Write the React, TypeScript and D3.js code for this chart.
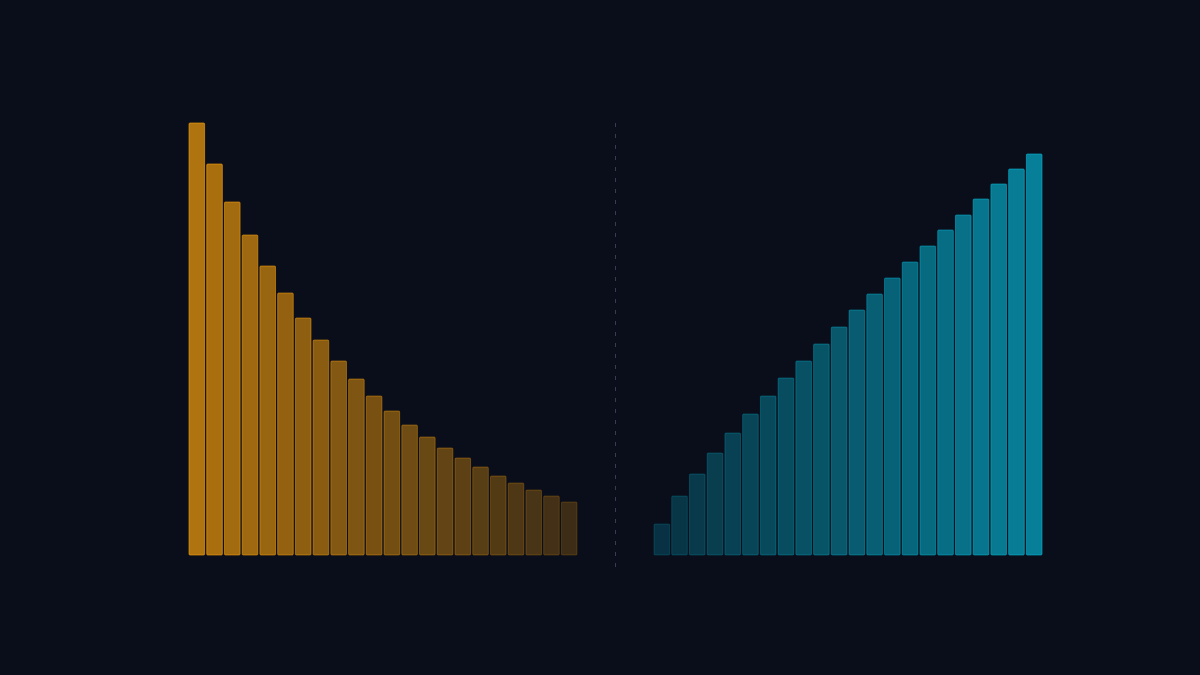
import * as d3 from 'd3'
import { useEffect } from 'react'

const W = 1200
const H = 675

// left group: shrinking values (amber)
const leftValues = [432, 391, 353, 320, 289, 262, 237, 215, 194, 176, 159, 144, 130, 118, 107, 97, 88, 79, 72, 65, 59, 53]
// right group: growing values (cyan)
const rightValues = [31, 59, 81, 102, 122, 141, 159, 177, 194, 211, 228, 245, 261, 277, 293, 309, 325, 340, 356, 371, 386, 401]

const BG = '#0a0e1a'
const AMBER = '#f59e0b'
const CYAN = '#06b6d4'

export default function App() {
  useEffect(() => {
    document.body.style.margin = '0'
    document.body.style.background = BG
  }, [])

  const baseline = 555
  const y = d3.scaleLinear().domain([0, 432]).range([baseline, 123])

  const xLeft = d3
    .scaleBand<number>()
    .domain(d3.range(leftValues.length))
    .range([189, 577])
    .paddingInner(0.12)
  const xRight = d3
    .scaleBand<number>()
    .domain(d3.range(rightValues.length))
    .range([654, 1042])
    .paddingInner(0.12)

  // fade: first left bar bright -> dim; right bars dim -> bright
  const opLeft = d3.scaleLinear().domain([0, leftValues.length - 1]).range([0.7, 0.22])
  const opRight = d3.scaleLinear().domain([0, rightValues.length - 1]).range([0.22, 0.68])

  return (
    <svg width={W} height={H} viewBox={`0 0 ${W} ${H}`} style={{ display: 'block', background: BG }}>
      <rect width={W} height={H} fill={BG} />
      {leftValues.map((v, i) => (
        <rect
          key={'l' + i}
          x={xLeft(i)}
          y={y(v)}
          width={xLeft.bandwidth()}
          height={baseline - y(v)}
          rx={1}
          fill={AMBER}
          fillOpacity={opLeft(i)}
          stroke={AMBER}
          strokeOpacity={Math.min(1, opLeft(i) * 0.9)}
          strokeWidth={1}
        />
      ))}
      {rightValues.map((v, i) => (
        <rect
          key={'r' + i}
          x={xRight(i)}
          y={y(v)}
          width={xRight.bandwidth()}
          height={baseline - y(v)}
          rx={1}
          fill={CYAN}
          fillOpacity={opRight(i)}
          stroke={CYAN}
          strokeOpacity={Math.min(1, opRight(i) * 0.9)}
          strokeWidth={1}
        />
      ))}
      <line x1={615.5} x2={615.5} y1={123} y2={570} stroke="#353d50" strokeWidth={1} strokeDasharray="4 7" />
    </svg>
  )
}
